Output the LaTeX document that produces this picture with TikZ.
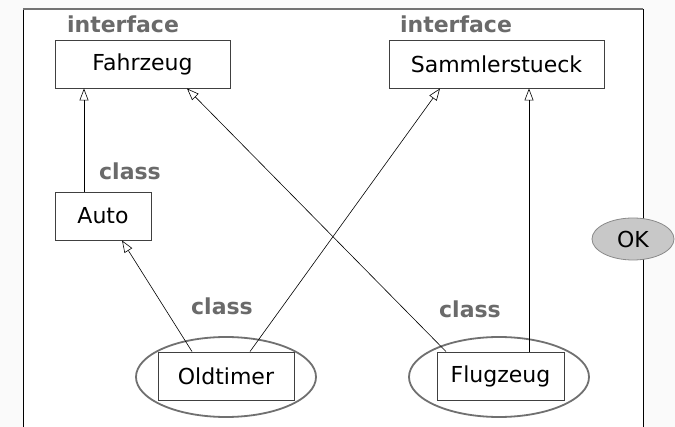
\documentclass[tikz,border=0pt]{standalone}
\usepackage{fontspec}
\setmainfont{DejaVu Sans}
\usetikzlibrary{arrows.meta,shapes.geometric}
\definecolor{labelgray}{HTML}{6A6A6A}
\definecolor{edgegray}{HTML}{707070}
\definecolor{okfill}{HTML}{C8C8C8}
\definecolor{okdraw}{HTML}{8A8A8A}
\definecolor{outside}{HTML}{FAFAFA}
\tikzset{
  typebox/.style={draw=black!75, line width=0.9pt, minimum height=48pt, inner sep=0pt, font=\fontsize{22}{25}\selectfont},
  stereo/.style={text=labelgray, font=\bfseries\fontsize{22}{25}\selectfont, inner sep=0pt},
  marker/.style={ellipse, draw=edgegray, line width=1.8pt, minimum width=180pt, minimum height=80pt, inner sep=0pt},
  realizes/.style={draw=black, line width=0.6pt, -{Triangle[open, length=12pt, width=9pt]}},
}
\begin{document}
\begin{tikzpicture}[x=1pt, y=-1pt]
\useasboundingbox (0,0) rectangle (675,427);
\fill[outside] (0,0) rectangle (675,427);
\fill[white] (23,9) rectangle (643,427);
\draw[black, line width=0.8pt] (23,427) -- (23,9);
\draw[black, line width=0.8pt] (643,9) -- (643,427);
\draw[black!55, line width=1.6pt] (23,9) -- (643,9);

% interfaces
\node[typebox, minimum width=175pt] (fz) at (142.5,64) {Fahrzeug};
\node[typebox, minimum width=215pt] (sm) at (496.5,64) {Sammlerstueck};
\node[stereo] (lfz) at (123,24) {interface};
\node[stereo] (lsm) at (456,24) {interface};

% classes
\node[typebox, minimum width=96pt] (auto) at (103,216) {Auto};
\node[stereo] (lauto) at (130,171) {class};

\node[marker] (eold) at (226,377) {};
\node[marker] (eflug) at (499,377) {};
\node[typebox, minimum width=136pt] (old) at (226,376) {Oldtimer};
\node[typebox, minimum width=127pt] (flug) at (500.5,376) {Flugzeug};
\node[stereo] (lold) at (222,306) {class};
\node[stereo] (lflug) at (470,309) {class};

% status badge
\node[ellipse, fill=okfill, draw=okdraw, line width=0.8pt, minimum width=82pt, minimum height=42pt, inner sep=0pt, font=\fontsize{22}{25}\selectfont] (ok) at (633,239) {OK};

% generalisations
\draw[realizes] (auto.north -| 84,0) -- (fz.south -| 84,0);
\draw[realizes] (old.north -| 192,0) -- (auto.south -| 122,0);
\draw[realizes] (old.north -| 250,0) -- (sm.south -| 440,0);
\draw[realizes] (flug.north -| 446,0) -- (fz.south -| 187,0);
\draw[realizes] (flug.north -| 529,0) -- (sm.south -| 529,0);
\end{tikzpicture}
\end{document}
